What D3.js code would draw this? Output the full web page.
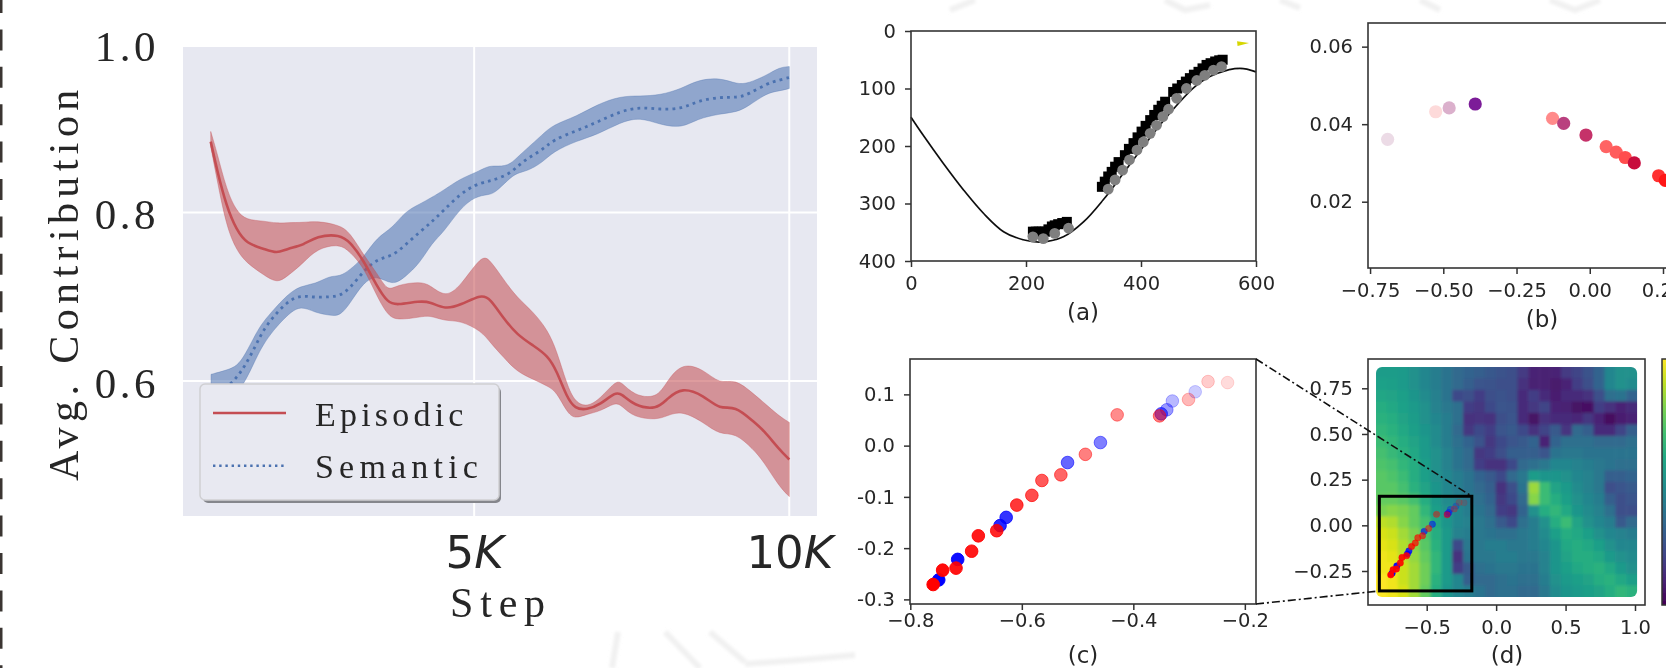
<!DOCTYPE html>
<html>
<head>
<meta charset="utf-8">
<script src="https://cdn.jsdelivr.net/npm/d3@7/dist/d3.min.js"></script>
<style>
html,body{margin:0;padding:0;background:#fff;overflow:hidden}
svg{display:block}
</style>
</head>
<body>
<svg id="chart" width="1666" height="668"></svg>
<script>
// ---- Left chart: average contribution ----
const episodicSteps = [0.82,0.92,1.07,1.23,1.39,1.66,1.87,2.03,2.29,2.50,2.87,3.03,3.24,3.46,3.63,3.77,4.14,4.30,4.54,4.78,5.12,5.25,5.47,5.68,5.94,6.17,6.31,6.47,6.60,6.79,7.00,7.24,7.34,7.53,7.90,8.06,8.30,8.64,8.90,9.14,9.43,9.59,9.83,10.0];
const episodicMean  = [.884,.850,.807,.779,.763,.757,.751,.757,.761,.772,.774,.765,.744,.712,.693,.690,.695,.694,.685,.690,.703,.698,.674,.655,.642,.630,.612,.581,.567,.566,.572,.587,.585,.571,.566,.579,.593,.583,.566,.571,.552,.542,.520,.507];
const episodicUpper = [.896,.871,.827,.801,.791,.790,.787,.788,.788,.790,.785,.776,.750,.728,.706,.714,.718,.714,.699,.712,.750,.744,.720,.699,.682,.660,.636,.596,.575,.569,.579,.600,.599,.583,.579,.600,.622,.614,.596,.603,.585,.575,.559,.551];
const episodicLower = [.878,.839,.783,.755,.740,.726,.716,.724,.740,.757,.763,.753,.736,.700,.678,.672,.676,.678,.671,.672,.659,.646,.628,.611,.602,.594,.587,.563,.555,.561,.564,.575,.571,.557,.554,.559,.565,.551,.536,.539,.519,.505,.476,.463];

const semanticSteps = [0.825,1.08,1.24,1.365,1.54,1.65,1.81,2.03,2.24,2.48,2.71,2.87,3.03,3.24,3.46,3.70,3.90,4.14,4.33,4.51,4.78,5.02,5.22,5.33,5.54,5.68,5.84,6.08,6.25,6.63,6.95,7.32,7.63,7.95,8.30,8.54,8.90,9.17,9.35,9.65,9.84,10.0];
const semanticMean  = [.587,.592,.605,.618,.643,.660,.676,.694,.702,.699,.700,.701,.710,.730,.745,.748,.761,.777,.789,.802,.822,.833,.837,.839,.845,.854,.864,.874,.886,.897,.907,.920,.925,.922,.923,.932,.937,.936,.940,.953,.957,.960];
const semanticUpper = [.608,.613,.618,.631,.657,.670,.684,.702,.713,.715,.725,.724,.732,.746,.771,.781,.801,.810,.818,.826,.840,.847,.855,.855,.855,.865,.876,.892,.904,.914,.928,.938,.938,.939,.947,.957,.960,.952,.953,.963,.972,.973];
const semanticLower = [.575,.577,.587,.599,.627,.643,.660,.678,.690,.681,.678,.677,.692,.717,.726,.713,.723,.740,.764,.776,.805,.819,.821,.823,.839,.847,.849,.859,.872,.885,.892,.907,.913,.904,.900,.911,.917,.919,.926,.942,.944,.947];

const contributionTicks = [0.6,0.8,1.0];
const stepTicks = [5,10];
const legendLabels = ["Episodic","Semantic"];

// ---- Panel (a): trajectory on the hill ----
const hillX = [0,21,56,91,126,161,195,227,265,300,334,369,404,450,497,532,572,600];
const hillY = [150,181,230,276,317,349,363,367,358,332,294,248,201,143,94,74,65,71];
const agentBlackX = [212,217,222,228,233,239,245,250,256,263,271, 332,337,343,349,355,361,372,379,387,394,401,408,416,423,430,436,442, 456,463,471,478,485,492,500,507,514,521,529,536,542];
const agentBlackY = [349,349,349,349,349,345,340,338,336,334,332, 271,262,253,245,236,228,216,205,195,185,175,165,155,146,137,130,123, 106,100,94,88,82,76,71,65,59,56,53,51,50];
const agentGrayX = [212,230,250,274, 343,355,368,380,393,404,416,427,438,448, 462,479,497,511,526,540];
const agentGrayY = [358,361,352,343, 275,259,242,224,207,193,178,164,149,136, 117,100,86,77,68,62];
const flagX = [567,588,568];
const flagY = [18,21,26];
const aTicksX = [0,200,400,600];
const aTicksY = [0,100,200,300,400];

// ---- Panel (b) ----
const bX = [-.690,-.526,-.480,-.391,-.127,-.089,-.013,.056,.090,.121,.152,.235,.258];
const bY = [.0361,.0432,.0442,.0452,.0415,.0402,.0372,.0342,.0328,.0314,.0300,.0267,.0255];
const bFill = ["#ecdbe6","#fddada","#dbb0cc","#7b1a98","#ff8a8a","#b9417f","#c53069","#ff6464","#ff5c5c","#ff4d4d","#c80a3c","#ff3030","#ff1414"];
const bTicksX = [-.75,-.5,-.25,0,.25];
const bTicksY = [.02,.04,.06];

// ---- Panel (c), also overlaid on panel (d) ----
const redX = [-.231,-.266,-.301,-.429,-.353,-.486,-.530,-.564,-.582,-.609,-.645,-.678,-.690,-.718,-.742,-.759];
const redY = [.123,.125,.090,.060,.058,-.017,-.057,-.068,-.097,-.116,-.166,-.176,-.206,-.239,-.243,-.271];
const redAlpha = [.14,.2,.28,.45,.5,.5,.6,.65,.7,.78,.85,.9,.9,.92,.96,1];
const blueX = [-.289,-.330,-.340,-.350,-.459,-.518,-.628,-.639,-.715,-.749];
const blueY = [.105,.087,.070,.062,.006,-.033,-.140,-.156,-.222,-.262];
const blueAlpha = [.2,.28,.4,.6,.5,.6,.8,.85,.95,1];
const cTicksX = [-.8,-.6,-.4,-.2];
const cTicksY = [.1,0,-.1,-.2,-.3];

// ---- Panel (d): heat map, values 0..1 on the viridis scale ----
const dTicksX = [-.5,0,.5,1];
const dTicksY = [.75,.5,.25,0,-.25];
const heatRows = [
[.55,.55,.54,.50,.46,.42,.38,.34,.32,.30,.27,.25,.24,.17,.10,.09,.10,.17,.20,.25,.32,.46,.50,.50],
[.57,.56,.54,.50,.46,.42,.38,.34,.30,.26,.25,.24,.24,.14,.09,.09,.07,.10,.18,.24,.32,.46,.50,.48],
[.59,.58,.56,.52,.48,.43,.38,.22,.24,.18,.24,.25,.24,.12,.18,.12,.08,.12,.12,.14,.24,.36,.38,.32],
[.62,.60,.57,.54,.50,.44,.40,.36,.18,.16,.22,.26,.25,.12,.16,.20,.10,.09,.05,.04,.18,.14,.10,.12],
[.64,.62,.58,.55,.50,.46,.42,.36,.14,.15,.14,.24,.26,.12,.05,.14,.12,.12,.11,.16,.10,.03,.08,.10],
[.66,.64,.60,.56,.52,.48,.42,.34,.16,.22,.18,.26,.28,.22,.14,.20,.28,.15,.34,.30,.12,.12,.20,.30],
[.68,.66,.62,.58,.54,.48,.42,.36,.32,.25,.16,.22,.26,.28,.32,.10,.32,.36,.36,.36,.34,.34,.34,.36],
[.70,.67,.64,.60,.54,.50,.44,.38,.34,.16,.18,.24,.30,.30,.30,.26,.38,.40,.40,.38,.38,.38,.38,.38],
[.72,.70,.66,.62,.56,.50,.44,.38,.34,.18,.14,.14,.22,.34,.36,.40,.46,.46,.44,.42,.40,.38,.36,.36],
[.74,.72,.68,.62,.56,.50,.46,.42,.38,.32,.28,.22,.34,.40,.55,.52,.52,.50,.46,.44,.40,.30,.30,.32],
[.74,.74,.70,.64,.58,.52,.46,.42,.38,.34,.30,.14,.24,.38,.85,.68,.58,.54,.48,.44,.40,.24,.26,.28],
[.76,.76,.74,.70,.62,.54,.48,.44,.40,.36,.32,.16,.22,.34,.82,.68,.62,.56,.50,.46,.42,.30,.24,.26],
[.80,.82,.80,.76,.66,.56,.50,.46,.42,.38,.34,.18,.16,.32,.50,.62,.66,.60,.52,.48,.44,.36,.24,.24],
[.90,.88,.82,.76,.70,.60,.52,.46,.44,.40,.36,.28,.22,.36,.42,.50,.62,.68,.58,.50,.46,.42,.28,.34],
[.94,.92,.86,.80,.72,.62,.54,.44,.42,.40,.38,.36,.36,.40,.42,.48,.56,.62,.60,.56,.50,.46,.44,.42],
[.96,.94,.88,.82,.74,.64,.54,.22,.40,.40,.42,.42,.40,.40,.42,.46,.52,.60,.62,.60,.56,.50,.46,.46],
[.98,.96,.90,.84,.76,.66,.54,.14,.38,.40,.40,.42,.42,.40,.40,.44,.52,.58,.62,.62,.60,.54,.50,.48],
[.98,.98,.92,.86,.78,.66,.54,.18,.28,.36,.38,.40,.40,.38,.38,.44,.52,.56,.60,.62,.64,.60,.54,.50],
[1.0,.98,.92,.86,.78,.64,.54,.46,.30,.34,.34,.36,.38,.36,.36,.42,.50,.54,.56,.58,.62,.64,.60,.56],
[1.0,.98,.94,.86,.76,.62,.52,.46,.42,.38,.34,.36,.36,.34,.34,.40,.48,.52,.54,.56,.58,.62,.66,.64]
];
const heatExtentX = [-.865,1.015];
const heatExtentY = [.867,-.392];
const zoomBoxX = [-.841,-.175];
const zoomBoxY = [.159,-.359];

// ---- Drawing ----
const svg = d3.select("#chart");
const INK = "#262626", SPINE = "#333";
const SANS = "'DejaVu Sans',sans-serif", SERIF = "'Liberation Serif',serif";

const defs = svg.append("defs");
function blur(id,sd){
  defs.append("filter").attr("id",id).attr("filterUnits","userSpaceOnUse")
    .attr("x",-10).attr("y",-10).attr("width",1700).attr("height",700)
    .append("feGaussianBlur").attr("stdDeviation",sd);
}
blur("soft",0.6); blur("heatSoft",1.5); blur("ghostSoft",1.6);

const root = svg.append("g").attr("filter","url(#soft)");
// faint ghost marks behind the figure and the dashed frame at the left edge
const ghost = root.append("g").attr("fill","none").attr("stroke","#f1f1f1").attr("stroke-width",6).attr("filter","url(#ghostSoft)");
[[[612,668],[618,632]],[[665,632],[700,668]],[[710,632],[745,662]],[[745,664],[800,660],[855,655]],[[950,10],[975,0]],[[1165,0],[1185,10],[1210,5]],[[1280,0],[1300,8]],[[1420,0],[1440,10]],[[1550,0],[1575,10],[1600,0]]]
  .forEach(p => ghost.append("path").attr("d", d3.line()(p)));
root.append("line").attr("x1",1).attr("x2",1).attr("y1",-8).attr("y2",668)
  .attr("stroke","#3a3630").attr("stroke-width",3).attr("stroke-dasharray","21 16.4");

// -- Left chart
const lx = d3.scaleLinear().domain([0.38,10.44]).range([183,817]);
const ly = d3.scaleLinear().domain([0.44,0.9962]).range([516,47]);
const left = root.append("g");
left.append("rect").attr("x",183).attr("y",47).attr("width",634).attr("height",469).attr("fill","#e7e8f1");
left.append("g").selectAll("line").data(contributionTicks.filter(d=>d<1)).join("line")
  .attr("x1",183).attr("x2",817).attr("y1",ly).attr("y2",ly).attr("stroke","#fff").attr("stroke-width",2);
left.append("g").selectAll("line").data(stepTicks).join("line")
  .attr("y1",47).attr("y2",516).attr("x1",lx).attr("x2",lx).attr("stroke","#fff").attr("stroke-width",2);

function drawSeries(steps, upper, lower, mean, color, dash){
  const idx = d3.range(steps.length);
  const area = d3.area().x(i=>lx(steps[i])).y0(i=>ly(lower[i])).y1(i=>ly(upper[i])).curve(d3.curveBasis);
  left.append("path").datum(idx).attr("d",area).attr("fill",color).attr("fill-opacity",.56)
    .attr("stroke",color).attr("stroke-opacity",.35).attr("stroke-width",1);
  const line = d3.line().x(i=>lx(steps[i])).y(i=>ly(mean[i])).curve(d3.curveBasis);
  left.append("path").datum(idx).attr("d",line).attr("fill","none").attr("stroke",color)
    .attr("stroke-width",dash?2.8:2.6).attr("stroke-dasharray",dash||null);
}
drawSeries(semanticSteps,semanticUpper,semanticLower,semanticMean,"#4c72b0","2.8 4.2");
drawSeries(episodicSteps,episodicUpper,episodicLower,episodicMean,"#c44e52",null);

const ya = left.append("g").attr("transform","translate(183,0)")
  .call(d3.axisLeft(ly).tickValues(contributionTicks).tickSize(0).tickPadding(24).tickFormat(d=>d.toFixed(1)));
ya.select(".domain").remove();
ya.selectAll("text").attr("font-family",SERIF).attr("font-size",43).attr("fill",INK)
  .attr("letter-spacing",3.5).attr("dy","0.38em");

const xa = left.append("g").attr("transform","translate(0,516)")
  .call(d3.axisBottom(lx).tickValues(stepTicks).tickSize(0).tickPadding(20).tickFormat(d=>d));
xa.select(".domain").remove();
xa.selectAll("text").each(function(d){
  const t = d3.select(this).text(null).attr("font-family",SANS).attr("font-size",45).attr("fill",INK);
  t.append("tspan").text(d);
  t.append("tspan").attr("font-style","italic").text("K");
});
left.append("text").text("Step").attr("x",450).attr("y",617).attr("font-family",SERIF)
  .attr("font-size",42).attr("letter-spacing",6.8).attr("fill",INK);
left.append("text").text("Avg. Contribution").attr("transform","translate(78,481) rotate(-90)")
  .attr("font-family",SERIF).attr("font-size",42).attr("letter-spacing",5.4).attr("fill",INK);

// legend
const lg = left.append("g");
lg.append("rect").attr("x",203).attr("y",387).attr("width",298).attr("height",116).attr("rx",5).attr("fill","#85868c");
lg.append("rect").attr("x",200).attr("y",384).attr("width",299).attr("height",116).attr("rx",5)
  .attr("fill","#e8e9f1").attr("stroke","#cfcfd2").attr("stroke-width",1.5);
const legendColor = ["#c44e52","#4c72b0"], legendDash = [null,"2.4 3.8"], legendY = [413,465.7], legendSpacing = [4.2,5.2];
legendLabels.forEach((label,i)=>{
  lg.append("line").attr("x1",213).attr("x2",286).attr("y1",legendY[i]).attr("y2",legendY[i])
    .attr("stroke",legendColor[i]).attr("stroke-width",2.4).attr("stroke-dasharray",legendDash[i]);
  lg.append("text").text(label).attr("x",315).attr("y",legendY[i]+12.5).attr("font-family",SERIF)
    .attr("font-size",34).attr("letter-spacing",legendSpacing[i]).attr("fill",INK);
});

// -- helper for small matplotlib-like panels
function panel(x0,x1,y0,y1,xs,ys,xTicks,yTicks,xFmt,yFmt,xPad,caption,capX,capY){
  const g = root.append("g");
  const xa = g.append("g").attr("transform",`translate(0,${y1})`).call(d3.axisBottom(xs).tickValues(xTicks).tickSize(6).tickPadding(xPad).tickFormat(xFmt));
  const ya = g.append("g").attr("transform",`translate(${x0},0)`).call(d3.axisLeft(ys).tickValues(yTicks).tickSize(6).tickPadding(9).tickFormat(yFmt));
  [xa,ya].forEach(a=>{
    a.select(".domain").remove();
    a.selectAll("line").attr("stroke",SPINE).attr("stroke-width",1.5);
    a.selectAll("text").attr("font-family",SANS).attr("font-size",19.5).attr("fill",INK);
  });
  g.append("text").text(caption).attr("x",capX).attr("y",capY).attr("text-anchor","middle")
    .attr("font-family",SANS).attr("font-size",23).attr("fill",INK);
  const frame = ()=>root.append("rect").attr("x",x0).attr("y",y0).attr("width",x1-x0).attr("height",y1-y0)
    .attr("fill","none").attr("stroke",SPINE).attr("stroke-width",1.6);
  return {g,frame};
}
const minusFmt = spec => d => d3.format(spec)(d);            // typographic minus
const hyphenFmt = spec => d => d3.format(spec)(d).replace("\u2212","-"); // short dash

// -- (a)
const ax = d3.scaleLinear().domain([0,600]).range([911,1256]);
const ay = d3.scaleLinear().domain([400,0]).range([261,31]);
const pa = panel(911,1256,31,261,ax,ay,aTicksX,aTicksY,d=>d,d=>d,9,"(a)",1083,320);
pa.g.append("path").datum(d3.range(hillX.length))
  .attr("d",d3.line().x(i=>ax(hillX[i])).y(i=>ay(hillY[i])).curve(d3.curveCatmullRom))
  .attr("fill","none").attr("stroke","#111").attr("stroke-width",1.7);
const sq = 10;
pa.g.append("g").selectAll("rect").data(agentBlackX).join("rect")
  .attr("x",(d)=>ax(d)-sq/2).attr("y",(d,i)=>ay(agentBlackY[i])-sq/2).attr("width",sq).attr("height",sq).attr("fill","#000");
pa.g.append("g").selectAll("circle").data(agentGrayX).join("circle")
  .attr("cx",d=>ax(d)).attr("cy",(d,i)=>ay(agentGrayY[i])).attr("r",5.4).attr("fill","#7f7f7f");
pa.g.append("polygon").attr("points",flagX.map((d,i)=>[ax(d),ay(flagY[i])].join(",")).join(" ")).attr("fill","#d6d600");
pa.frame();

// -- (b)
const bx = d3.scaleLinear().domain([-.757,.25]).range([1368,1663]);
const by = d3.scaleLinear().domain([.0029,.0661]).range([268,23]);
const pb = panel(1368,1690,23,268,bx,by,bTicksX,bTicksY,minusFmt(".2f"),d3.format(".2f"),9,"(b)",1542,327);
pb.g.append("g").selectAll("circle").data(bX).join("circle")
  .attr("cx",d=>bx(d)).attr("cy",(d,i)=>by(bY[i])).attr("r",6.6).attr("fill",(d,i)=>bFill[i]);
pb.frame();

// -- (c)
const cx = d3.scaleLinear().domain([-.8,-.18]).range([910.3,1256]);
const cy = d3.scaleLinear().domain([-.309,.169]).range([604,359]);
const pc = panel(910,1256,359,604,cx,cy,cTicksX,cTicksY,minusFmt(".1f"),hyphenFmt(".1f"),3,"(c)",1083,663);
function dots(g,xs,ys,r,ring){
  g.append("g").selectAll("circle").data(blueX).join("circle")
    .attr("cx",d=>xs(d)).attr("cy",(d,i)=>ys(blueY[i])).attr("r",r).attr("fill","#0000ff").attr("fill-opacity",(d,i)=>blueAlpha[i])
    .attr("stroke","#0000ff").attr("stroke-width",ring).attr("stroke-opacity",(d,i)=>blueAlpha[i]);
  g.append("g").selectAll("circle").data(redX).join("circle")
    .attr("cx",d=>xs(d)).attr("cy",(d,i)=>ys(redY[i])).attr("r",r).attr("fill","#ff0000").attr("fill-opacity",(d,i)=>redAlpha[i])
    .attr("stroke","#ff0000").attr("stroke-width",ring).attr("stroke-opacity",(d,i)=>redAlpha[i]);
}
dots(pc.g,cx,cy,6.3,1);
pc.frame();

// -- (d)
const dx = d3.scaleLinear().domain([-.5,1]).range([1426.7,1635]);
const dy = d3.scaleLinear().domain([-.25,.75]).range([571,388.3]);
const pd = panel(1368,1645,359,605,dx,dy,dTicksX,dTicksY,minusFmt(".1f"),minusFmt(".2f"),9,"(d)",1507,663);
const viridis = d3.scaleSequential(d3.interpolateViridis).domain([0,1]);
const hx0 = dx(heatExtentX[0]), hx1 = dx(heatExtentX[1]), hy0 = dy(heatExtentY[0]), hy1 = dy(heatExtentY[1]);
const col = d3.scaleBand().domain(d3.range(heatRows[0].length)).range([hx0,hx1]);
const row = d3.scaleBand().domain(d3.range(heatRows.length)).range([hy0,hy1]);
defs.append("clipPath").attr("id","heatClip").append("rect").attr("x",hx0).attr("y",hy0).attr("width",hx1-hx0).attr("height",hy1-hy0).attr("rx",6);
const heat = pd.g.append("g").attr("clip-path","url(#heatClip)").append("g").attr("filter","url(#heatSoft)");
heat.selectAll("g").data(heatRows).join("g")
  .attr("transform",(d,i)=>`translate(0,${row(i)})`)
  .selectAll("rect").data(d=>d).join("rect")
  .attr("x",(d,i)=>col(i)-(i===0?8:0)).attr("width",(d,i)=>col.bandwidth()+.6+((i===0||i===23)?8:0))
  .attr("y",function(){const r=heatRows.indexOf(d3.select(this.parentNode).datum());return r===0?-8:0;})
  .attr("height",function(){const r=heatRows.indexOf(d3.select(this.parentNode).datum());return row.bandwidth()+.6+((r===0||r===19)?8:0);})
  .attr("fill",d=>viridis(d));
root.append("rect").attr("x",dx(zoomBoxX[0])).attr("y",dy(zoomBoxY[0]))
  .attr("width",dx(zoomBoxX[1])-dx(zoomBoxX[0])).attr("height",dy(zoomBoxY[1])-dy(zoomBoxY[0]))
  .attr("fill","none").attr("stroke","#000").attr("stroke-width",3);
dots(root,dx,dy,3.2,.5);
pd.frame();

// colour bar (runs off the right edge)
const grad = defs.append("linearGradient").attr("id","cbar").attr("x1",0).attr("x2",0).attr("y1",1).attr("y2",0);
d3.range(0,1.001,.1).forEach(t=>grad.append("stop").attr("offset",t).attr("stop-color",viridis(t)));
root.append("rect").attr("x",1662).attr("y",359).attr("width",30).attr("height",246)
  .attr("fill","url(#cbar)").attr("stroke",SPINE).attr("stroke-width",1.5);

// dash-dot connectors from (c) to the box in (d)
const connectors = [[[cx(-.18),cy(.169)],[dx(zoomBoxX[1]),dy(zoomBoxY[0])]],[[cx(-.18),cy(-.309)],[dx(zoomBoxX[0]),dy(zoomBoxY[1])]]];
connectors.forEach(c=>root.append("path").attr("d",d3.line()(c)).attr("fill","none").attr("stroke","#111")
  .attr("stroke-width",1.6).attr("stroke-dasharray","8 3 2 3"));
</script>
</body>
</html>
